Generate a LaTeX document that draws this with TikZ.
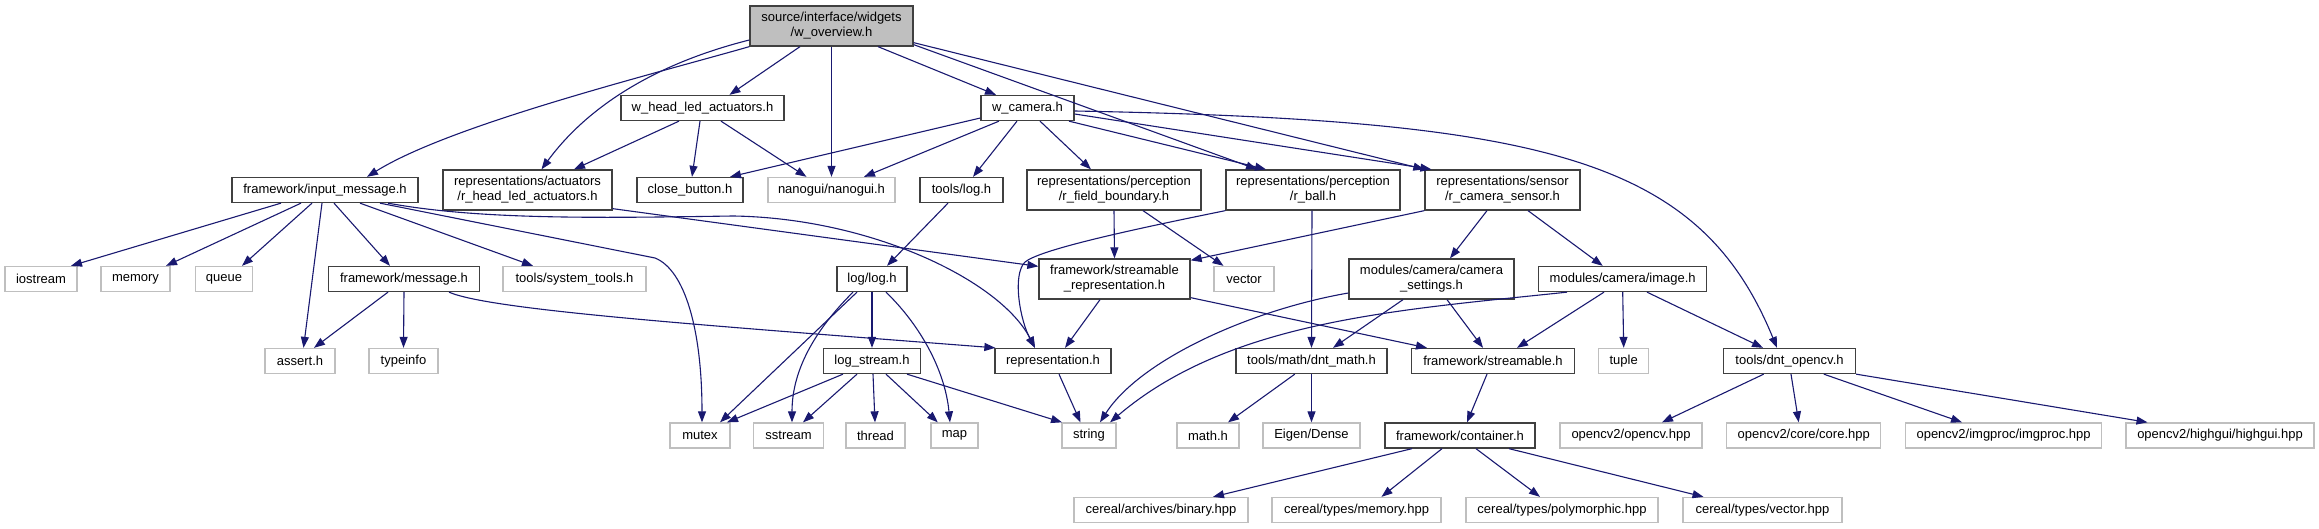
\documentclass[tikz,border=0pt]{standalone}
\usepackage{fontspec}
\setmainfont{Liberation Sans}
\usetikzlibrary{arrows.meta}
\definecolor{edgeblue}{HTML}{191970}
\definecolor{extgray}{HTML}{BFBFBF}
\definecolor{docborder}{HTML}{404040}
\definecolor{rootfill}{HTML}{BFBFBF}
\newcommand\gnode[7]{\node[#1, minimum width=#5pt, minimum height=#6pt] (#2) at (#3,#4) {#7};}
\tikzset{
  boxbase/.style={inner sep=0pt, align=center, font=\fontsize{13}{15}\selectfont, fill=white},
  docbox/.style={boxbase, draw=docborder, line width=1.3pt},
  extbox/.style={boxbase, draw=extgray, line width=1.3pt},
  rootbox/.style={docbox, fill=rootfill},
  edge/.style={draw=edgeblue, line width=1.1pt, -{Triangle[length=11pt,width=8pt]}},
}
\begin{document}
\begin{tikzpicture}[x=1pt,y=-1pt]
\useasboundingbox (0,0) rectangle (2319,529);
% row 0
\gnode{rootbox}{root}{831.5}{26}{163}{40}{source/interface/widgets\\/w\_overview.h}
% row 1
\gnode{docbox}{whl}{702.5}{108}{163}{25}{w\_head\_led\_actuators.h}
\gnode{docbox}{wcam}{1027.5}{108}{93}{25}{w\_camera.h}
% row 2
\gnode{docbox}{inmsg}{325}{190}{186}{25}{framework/input\_message.h}
\gnode{docbox}{rhla}{527.5}{190}{169}{40}{representations/actuators\\/r\_head\_led\_actuators.h}
\gnode{docbox}{cbtn}{690}{190}{106}{25}{close\_button.h}
\gnode{extbox}{nano}{831.5}{190}{127}{25}{nanogui/nanogui.h}
\gnode{docbox}{tlog}{961.5}{190}{83}{25}{tools/log.h}
\gnode{docbox}{rfb}{1114}{190}{174}{40}{representations/perception\\/r\_field\_boundary.h}
\gnode{docbox}{rball}{1313}{190}{174}{40}{representations/perception\\/r\_ball.h}
\gnode{docbox}{rcs}{1502.5}{190}{155}{40}{representations/sensor\\/r\_camera\_sensor.h}
% row 3
\gnode{extbox}{iostream}{41}{279}{72}{25}{iostream}
\gnode{extbox}{memory}{135.5}{279}{69}{25}{memory}
\gnode{extbox}{queue}{224}{279}{57}{25}{queue}
\gnode{docbox}{msg}{404}{279}{151}{25}{framework/message.h}
\gnode{extbox}{systools}{574.5}{279}{143}{25}{tools/system\_tools.h}
\gnode{docbox}{loglog}{872}{279}{70}{25}{log/log.h}
\gnode{docbox}{strrep}{1114.5}{279}{151}{40}{framework/streamable\\\_representation.h}
\gnode{extbox}{vector}{1244}{279}{60}{25}{vector}
\gnode{docbox}{camset}{1431.5}{279}{165}{40}{modules/camera/camera\\\_settings.h}
\gnode{docbox}{image}{1622.7}{279}{168}{25}{modules/camera/image.h}
% row 4
\gnode{extbox}{assert}{300}{361}{70}{25}{assert.h}
\gnode{extbox}{typeinfo}{403.5}{361}{69}{25}{typeinfo}
\gnode{docbox}{logstream}{872}{361}{97}{25}{log\_stream.h}
\gnode{docbox}{repr}{1053}{361}{116}{25}{representation.h}
\gnode{docbox}{dntmath}{1311.5}{361}{151}{25}{tools/math/dnt\_math.h}
\gnode{docbox}{streamable}{1493}{361}{163}{25}{framework/streamable.h}
\gnode{extbox}{tuple}{1623.7}{361}{50}{25}{tuple}
\gnode{docbox}{dntocv}{1789.5}{361}{132}{25}{tools/dnt\_opencv.h}
% row 5
\gnode{extbox}{mutex}{700}{435.5}{60}{25}{mutex}
\gnode{extbox}{sstream}{788.5}{435.5}{70}{25}{sstream}
\gnode{extbox}{thread}{875.5}{435.5}{59}{25}{thread}
\gnode{extbox}{map}{954.5}{435.5}{47}{25}{map}
\gnode{extbox}{string}{1089}{435.5}{54}{25}{string}
\gnode{extbox}{mathh}{1208}{435.5}{62}{25}{math.h}
\gnode{extbox}{eigen}{1311.5}{435.5}{97}{25}{Eigen/Dense}
\gnode{docbox}{container}{1460}{435.5}{150}{25}{framework/container.h}
\gnode{extbox}{ocv}{1631}{435.5}{142}{25}{opencv2/opencv.hpp}
\gnode{extbox}{core}{1803.7}{435.5}{154}{25}{opencv2/core/core.hpp}
\gnode{extbox}{imgproc}{2003.6}{435.5}{196}{25}{opencv2/imgproc/imgproc.hpp}
\gnode{extbox}{highgui}{2220}{435.5}{188}{25}{opencv2/highgui/highgui.hpp}
% row 6
\gnode{extbox}{binary}{1161}{510}{174}{25}{cereal/archives/binary.hpp}
\gnode{extbox}{cmem}{1356.5}{510}{169}{25}{cereal/types/memory.hpp}
\gnode{extbox}{poly}{1562}{510}{192}{25}{cereal/types/polymorphic.hpp}
\gnode{extbox}{cvec}{1762.5}{510}{159}{25}{cereal/types/vector.hpp}

% edges from root
\draw[edge] (root.south west) .. controls (650,75) and (450,125) .. ([xshift=42pt]inmsg.north);
\draw[edge] ([yshift=-14pt]root.west) .. controls (650,65) and (585,110) .. ([xshift=14pt]rhla.north);
\draw[edge] ([xshift=-31.5pt]root.south) -- ([xshift=27pt]whl.north);
\draw[edge] (root.south) -- (nano.north);
\draw[edge] ([xshift=46.5pt]root.south) -- ([xshift=-31.5pt]wcam.north);
\draw[edge] ([yshift=2pt]root.south east) -- ([xshift=-56pt]rball.north);
\draw[edge] ([yshift=4pt]root.south east) -- (rcs.north west);
% w_head_led_actuators
\draw[edge] ([xshift=-23.5pt]whl.south) -- ([xshift=46.5pt]rhla.north);
\draw[edge] ([xshift=-2.5pt]whl.south) -- ([xshift=2pt]cbtn.north);
\draw[edge] ([xshift=18.5pt]whl.south) -- ([xshift=-25pt]nano.north);
% w_camera
\draw[edge] ([yshift=-10pt]wcam.west) -- ([xshift=40pt]cbtn.north);
\draw[edge] ([xshift=-28.5pt]wcam.south) -- ([xshift=32.5pt]nano.north);
\draw[edge] ([xshift=-10.5pt]wcam.south) -- ([xshift=11.5pt]tlog.north);
\draw[edge] ([xshift=12.5pt]wcam.south) -- ([xshift=-23pt]rfb.north);
\draw[edge] ([xshift=41.5pt]wcam.south) -- ([xshift=-47pt]rball.north);
\draw[edge] ([yshift=-6pt]wcam.east) -- ([xshift=7pt]rcs.north west);
\draw[edge] ([yshift=-3pt]wcam.east) .. controls (1550,120) and (1700,160) .. ([xshift=-12.5pt]dntocv.north);
% input_message
\draw[edge] ([xshift=-44pt]inmsg.south) -- ([xshift=30pt]iostream.north);
\draw[edge] ([xshift=-24pt]inmsg.south) -- ([xshift=30.5pt]memory.north);
\draw[edge] ([xshift=-13pt]inmsg.south) -- ([xshift=18pt]queue.north);
\draw[edge] ([xshift=-3pt]inmsg.south) -- ([xshift=3.5pt]assert.north);
\draw[edge] ([xshift=9pt]inmsg.south) -- ([xshift=-14pt]msg.north);
\draw[edge] ([xshift=35pt]inmsg.south) -- ([xshift=-41.5pt]systools.north);
\draw[edge] ([xshift=55pt]inmsg.south) -- (655,258) .. controls (685,270) and (702,330) .. ([xshift=2pt]mutex.north);
\draw[edge] ([xshift=63pt]inmsg.south) .. controls (480,220) and (600,218) .. (733,216) .. controls (870,218) and (1000,280) .. ([xshift=-18pt]repr.north);
% message
\draw[edge] ([xshift=-16pt]msg.south) -- ([xshift=14pt]assert.north);
\draw[edge] (msg.south) -- (typeinfo.north);
\draw[edge] ([xshift=45pt]msg.south) .. controls (490,310) and (700,325) .. ([xshift=1pt]repr.north west);
% r_head_led_actuators
\draw[edge] ([yshift=2pt]rhla.south east) -- ([yshift=-8pt]strrep.north west);
% tools/log
\draw[edge] ([xshift=-13.5pt]tlog.south) -- ([xshift=15pt]loglog.north);
% r_field_boundary
\draw[edge] (rfb.south) -- (strrep.north);
\draw[edge] ([xshift=29pt]rfb.south) -- ([xshift=-20.5pt]vector.north);
% r_ball
\draw[edge] (rball.south west) .. controls (1120,232) and (1040,250) .. (1025,262) .. controls (1012,275) and (1020,320) .. ([xshift=-18pt]repr.north);
\draw[edge] ([xshift=-1pt]rball.south) -- (dntmath.north);
% r_camera_sensor
\draw[edge] (rcs.south west) -- ([yshift=-2pt]strrep.north east);
\draw[edge] ([xshift=-15.5pt]rcs.south) -- ([xshift=18.5pt]camset.north);
\draw[edge] ([xshift=25.5pt]rcs.south) -- ([xshift=-20pt]image.north);
% streamable_representation
\draw[edge] ([xshift=-14.5pt]strrep.south) -- ([xshift=12pt]repr.north);
\draw[edge] ([yshift=2pt]strrep.south east) -- ([xshift=-66pt]streamable.north);
% camera_settings
\draw[edge] ([yshift=-14pt]camset.west) .. controls (1250,310) and (1140,360) .. ([xshift=11pt]string.north);
\draw[edge] ([xshift=-28.5pt]camset.south) -- ([xshift=21.5pt]dntmath.north);
\draw[edge] ([xshift=15.5pt]camset.south) -- ([xshift=-10pt]streamable.north);
% image
\draw[edge] ([xshift=-55.7pt]image.south) .. controls (1400,310) and (1230,320) .. ([xshift=21pt]string.north);
\draw[edge] ([xshift=-18.7pt]image.south) -- ([xshift=24pt]streamable.north);
\draw[edge] (image.south) -- (tuple.north);
\draw[edge] ([xshift=24.3pt]image.south) -- ([xshift=-26.5pt]dntocv.north);
% log/log
\draw[edge] ([xshift=-15pt]loglog.south) -- ([xshift=20pt]mutex.north);
\draw[edge] ([xshift=-19pt]loglog.south) .. controls (815,330) and (792,370) .. ([xshift=3.5pt]sstream.north);
\draw[edge] (loglog.south) -- (logstream.north);
\draw[edge] ([xshift=14pt]loglog.south) .. controls (920,325) and (945,370) .. ([xshift=-4.5pt]map.north);
% log_stream
\draw[edge] ([xshift=-29pt]logstream.south) -- ([xshift=27pt]mutex.north);
\draw[edge] ([xshift=-15pt]logstream.south) -- ([xshift=14.5pt]sstream.north);
\draw[edge] ([xshift=1pt]logstream.south) -- ([xshift=-0.5pt]thread.north);
\draw[edge] ([xshift=14pt]logstream.south) -- ([xshift=-16.7pt]map.north);
\draw[edge] ([xshift=35pt]logstream.south) -- ([xshift=-27pt]string.north);
% representation
\draw[edge] ([xshift=6pt]repr.south) -- ([xshift=-8.5pt]string.north);
% dnt_math
\draw[edge] ([xshift=-16.7pt]dntmath.south) -- ([xshift=20pt]mathh.north);
\draw[edge] (dntmath.south) -- (eigen.north);
% streamable
\draw[edge] ([xshift=-6pt]streamable.south) -- ([xshift=7pt]container.north);
% container
\draw[edge] ([xshift=-48pt]container.south) -- ([xshift=52pt]binary.north);
\draw[edge] ([xshift=-18pt]container.south) -- ([xshift=25pt]cmem.north);
\draw[edge] ([xshift=16pt]container.south) -- ([xshift=-22pt]poly.north);
\draw[edge] ([xshift=49pt]container.south) -- ([xshift=-59pt]cvec.north);
% dnt_opencv
\draw[edge] ([xshift=-25.8pt]dntocv.south) -- ([xshift=31pt]ocv.north);
\draw[edge] ([xshift=1.5pt]dntocv.south) -- ([xshift=-5pt]core.north);
\draw[edge] ([xshift=34.3pt]dntocv.south) -- ([xshift=-41.6pt]imgproc.north);
\draw[edge] (dntocv.south east) -- ([xshift=-72.5pt]highgui.north);
\end{tikzpicture}
\end{document}
